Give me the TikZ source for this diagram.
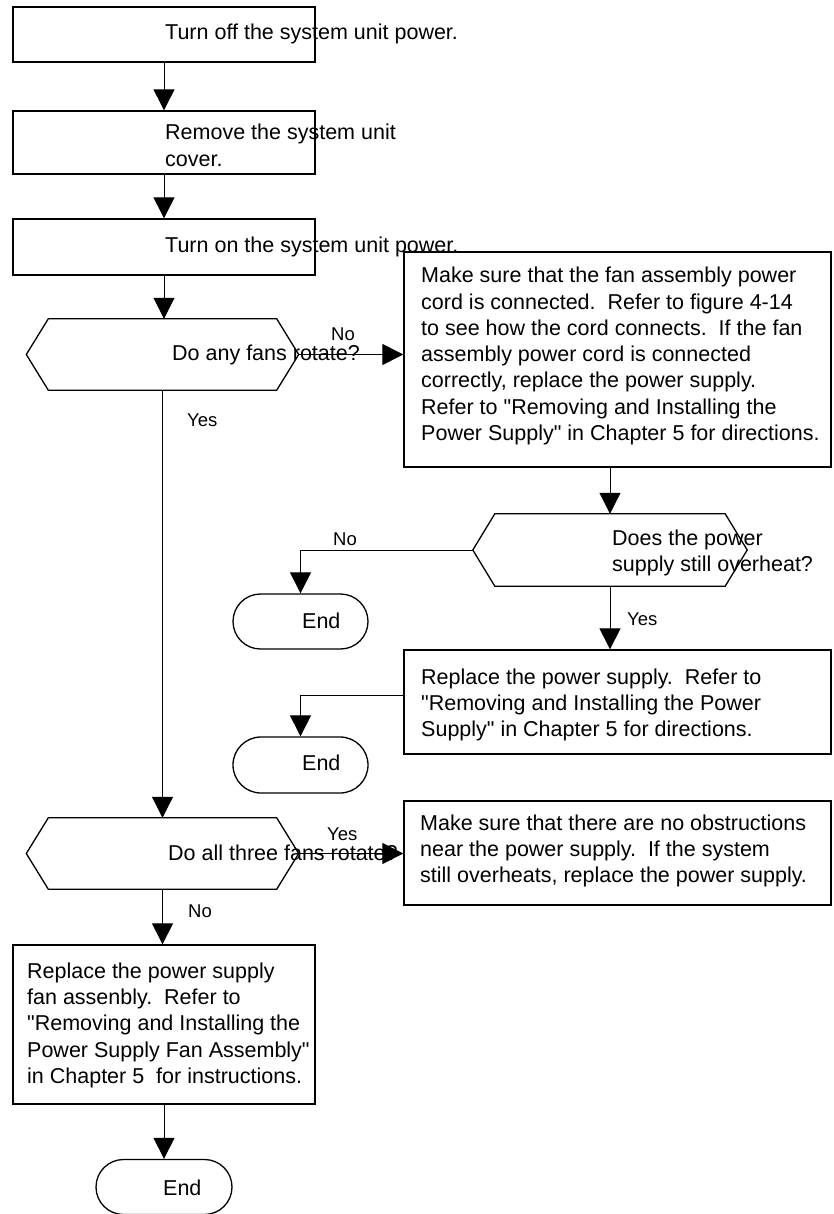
\documentclass[tikz,border=0pt]{standalone}
\usepackage{fontspec}
\setmainfont{Liberation Sans}[Ligatures=TeXOff]
\usetikzlibrary{arrows.meta,shapes.misc}
\begin{document}
\begin{tikzpicture}[x=1pt,y=-1pt,
  shapeline/.style={draw=black,line width=1.3pt},
  procbox/.style={shapeline,rectangle,inner sep=0pt,minimum width=#1},
  hexbase/.style={rectangle,draw=none,inner sep=0pt,minimum width=272pt,minimum height=71pt},
  endbox/.style={shapeline,rounded rectangle,inner sep=0pt,minimum width=135pt,minimum height=55pt},
  txt/.style={anchor=base west,inner sep=0pt,align=left,font=\fontsize{21.5}{26.3}\selectfont},
  lbl/.style={anchor=base west,inner sep=0pt,font=\fontsize{18.5}{22}\selectfont},
  arr/.style={draw=black,line width=1pt,-{Triangle[length=21pt,width=21pt]}}]
\useasboundingbox (0,0) rectangle (833,1214);
\newcommand{\hexdraw}[1]{\draw[shapeline,line join=miter] (#1.west) -- ([xshift=22pt]#1.north west) -- ([xshift=-22pt]#1.north east) -- (#1.east) -- ([xshift=-22pt]#1.south east) -- ([xshift=22pt]#1.south west) -- cycle;}

% shapes
\node[procbox=302pt,minimum height=55pt] (b1) at (164,34.5) {};
\node[procbox=302pt,minimum height=63pt] (b2) at (164,142.5) {};
\node[procbox=302pt,minimum height=56pt] (b3) at (164,247) {};
\node[hexbase] (h1) at (162.5,354.5) {};
\hexdraw{h1}
\node[procbox=427pt,minimum height=215pt] (b4) at (617.5,359.5) {};
\node[hexbase,minimum width=274pt,minimum height=72pt] (h2) at (610,550) {};
\hexdraw{h2}
\node[endbox] (e1) at (300.5,621.5) {};
\node[procbox=427pt,minimum height=104pt] (b5) at (617.5,702) {};
\node[endbox,minimum height=56pt] (e2) at (300.5,765) {};
\node[hexbase] (h3) at (162.5,853.5) {};
\hexdraw{h3}
\node[procbox=427pt,minimum height=104pt] (b6) at (617.5,853) {};
\node[procbox=302pt,minimum height=159pt] (b7) at (164,1024.5) {};
\node[endbox,minimum width=136pt] (e3) at (164,1187) {};

% texts (multi-line nodes: base anchor = baseline of last line)
\node[txt] (t1) at (165,39.3) {Turn off the system unit power.};
\node[txt] (t2) at (165,166.3) {Remove the system unit\\cover.};
\node[txt] (t3) at (165,252.7) {Turn on the system unit power.};
\node[txt] (th1) at (172,360.7) {Do any fans rotate?};
\node[txt] (t4) at (421,440.5) {Make sure that the fan assembly power\\cord is connected.\ \ Refer to figure 4-14\\to see how the cord connects.\ \ If the fan\\assembly power cord is connected\\correctly, replace the power supply.\\Refer to "Removing and Installing the\\Power Supply" in Chapter 5 for directions.};
\node[txt] (th2) at (612,571.3) {Does the power\\supply still overheat?};
\node[txt] (te1) at (302,628.3) {End};
\node[txt] (t5) at (421,736.6) {Replace the power supply.\ \ Refer to\\"Removing and Installing the Power\\Supply" in Chapter 5 for directions.};
\node[txt] (te2) at (302,770) {End};
\node[txt] (th3) at (168,860) {Do all three fans rotate?};
\node[txt] (t6) at (420,882.6) {Make sure that there are no obstructions\\near the power supply.\ \ If the system\\still overheats, replace the power supply.};
\node[txt] (t7) at (27,1083.5) {Replace the power supply\\fan assenbly.\ \ Refer to\\"Removing and Installing the\\Power Supply Fan Assembly"\\in Chapter 5\ \ for instructions.};
\node[txt] (te3) at (163,1195) {End};

% connectors
\draw[arr] (b1.south) -- (b2.north);
\draw[arr] (b2.south) -- (b3.north);
\draw[arr] (b3.south) -- (b3.south |- h1.north);
\draw[arr] (h1.east) -- (h1.east -| b4.west);
\draw[arr] (h1.south) -- (h3.north);
\draw[arr] (h2.north |- b4.south) -- (h2.north);
\draw[arr] (h2.west) -| (e1.north);
\draw[arr] (h2.south) -- (h2.south |- b5.north);
\draw[arr] ([yshift=7pt]b5.west) -| (e2.north);
\draw[arr] (h3.east) -- (h3.east -| b6.west);
\draw[arr] (h3.south) -- (h3.south |- b7.north);
\draw[arr] (b7.south) -- (e3.north);

% connector labels
\node[lbl] (l1) at (331,340) {No};
\node[lbl] (l2) at (187,426.5) {Yes};
\node[lbl] (l3) at (333,545) {No};
\node[lbl] (l4) at (627,625) {Yes};
\node[lbl] (l5) at (327,840) {Yes};
\node[lbl] (l6) at (188,917) {No};
\end{tikzpicture}
\end{document}
